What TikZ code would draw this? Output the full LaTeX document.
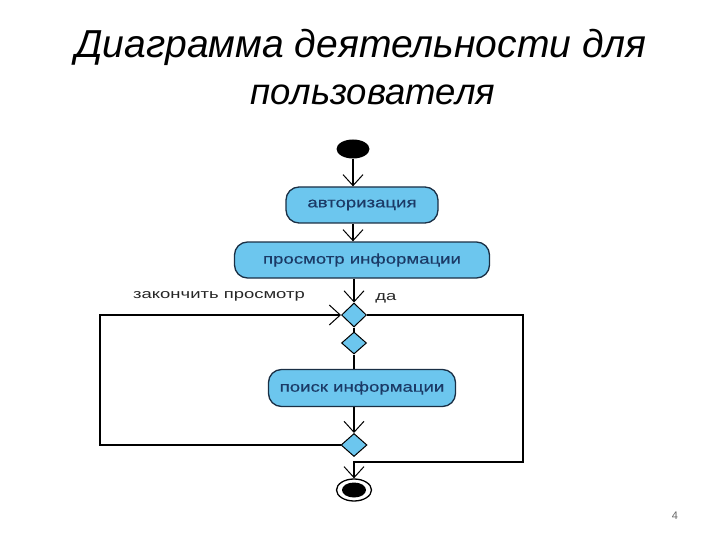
\documentclass[tikz,border=0pt]{standalone}
\usepackage{fontspec}
\setmainfont{Liberation Sans}
\newfontfamily\diagfont[FakeStretch=1.3,FakeBold=0.4]{Liberation Sans}
\newfontfamily\lblfont[FakeStretch=1.42]{Liberation Sans}
\usetikzlibrary{arrows.meta,shapes.geometric,calc}
\definecolor{actfill}{HTML}{6CC6EE}
\definecolor{actdraw}{HTML}{1A2F45}
\definecolor{acttext}{HTML}{1B3A66}
\tikzset{
  activity/.style={draw=actdraw, line width=1.3pt, fill=actfill, rounded corners=13pt,
    minimum height=36pt, inner sep=0pt, font=\diagfont\fontsize{14.3}{16}\selectfont, text=acttext},
  decision/.style={draw=black, line width=1pt, fill=actfill, diamond, inner sep=0pt,
    minimum width=25pt, minimum height=24pt},
  flow/.style={draw=black, line width=1.4pt, -{Straight Barb[length=11pt,width=20pt,line width=1pt]}},
  plain/.style={draw=black, line width=1.4pt},
  lbl/.style={font=\lblfont\fontsize{13}{15}\selectfont, text=black!85, inner sep=0pt},
  titlefont/.style={font=\itshape\fontsize{39}{44}\selectfont, inner sep=0pt, anchor=base}
}
\begin{document}
\begin{tikzpicture}[x=1pt,y=1pt]
\useasboundingbox (0,0) rectangle (720,-540);
% title
\node[titlefont] (t1) at (361,-58) {Диаграмма деятельности для};
\node[titlefont, font=\itshape\fontsize{36.5}{44}\selectfont] (t2) at (373,-105) {пользователя};
% nodes
\node[ellipse, fill=black, minimum width=33pt, minimum height=19pt, inner sep=0pt] (start) at (353,-149) {};
\node[activity, minimum width=152pt] (auth) at (362,-205) {авторизация};
\node[activity, minimum width=255pt] (view) at (362,-260) {просмотр информации};
\node[decision] (d1) at (354,-315) {};
\node[decision, minimum height=22pt] (d2) at (354,-343) {};
\node[activity, minimum width=187pt, minimum height=37pt] (search) at (362,-388) {поиск информации};
\node[decision, minimum width=26pt, minimum height=23pt] (d3) at (354,-445) {};
\node[ellipse, draw=black, line width=1.3pt, minimum width=35pt, minimum height=22pt, inner sep=0pt] (end) at (354,-490) {};
\node[ellipse, fill=black, minimum width=24pt, minimum height=15pt, inner sep=0pt] (endin) at (end.center) {};
% labels
\node[lbl] (lend) at (219,-296) {закончить просмотр};
\node[lbl] (lyes) at (386,-298) {да};
\node[font=\fontsize{11}{13}\selectfont, text=black!60] (pg) at (675,-516) {4};
% coordinates of the loops
\coordinate (lt) at (100,-315);
\coordinate (lb) at (100,-445);
\coordinate (rt) at (523,-315);
\coordinate (rb) at (523,-462);
\coordinate (mb) at (354,-462);
% connectors
\draw[flow] (start.south) -- (start.south |- auth.north);
\draw[flow] (start.south |- auth.south) -- (start.south |- view.north);
\draw[flow] (d1.north |- view.south) -- (d1.north);
\draw[plain] (d1.south) -- (d2.north);
\draw[plain] (d2.south) -- (d2.south |- search.north);
\draw[flow] (d3.north |- search.south) -- (d3.north);
\draw[flow] (d3.west) -- (lb) -- (lt) -- (d1.west);
\draw[flow] (d1.east) -- (rt) -- (rb) -- (mb) -- (end.north);
\end{tikzpicture}
\end{document}
